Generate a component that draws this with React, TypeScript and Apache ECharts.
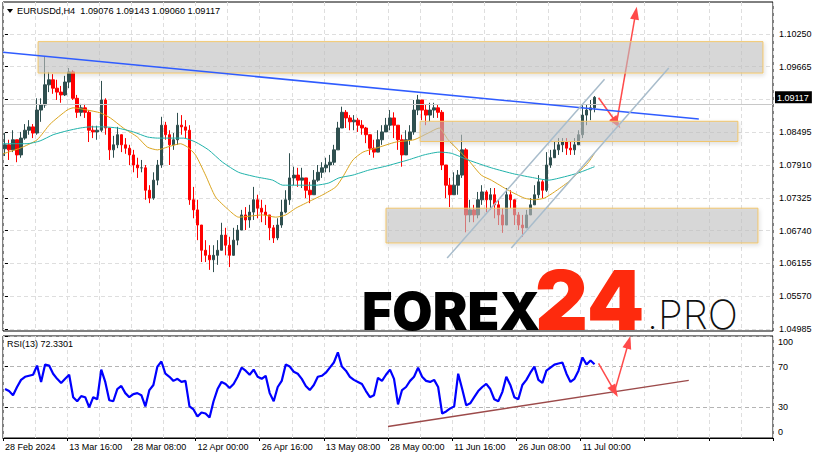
import React, { useEffect, useRef } from 'react';
import * as echarts from 'echarts';

// ---------- axis labels ----------
const dateLabels = ['28 Feb 2024', '13 Mar 16:00', '28 Mar 08:00', '12 Apr 00:00', '26 Apr 16:00', '13 May 08:00', '28 May 00:00', '11 Jun 16:00', '26 Jun 08:00', '11 Jul 00:00'];
const priceTicks = [1.04985, 1.0557, 1.06155, 1.0674, 1.07325, 1.0791, 1.08495, 1.0908, 1.09665, 1.1025];
const priceLabels = [1.04985, 1.0557, 1.06155, 1.0674, 1.07325, 1.0791, 1.08495, 1.09665, 1.1025];
const rsiTicks = [0, 30, 70, 100];
const slotCount = 192;

// ---------- price data (H4 EURUSD, grouped bars) ----------
const firstOpen = 1.082;
const closes = [
  1.0827, 1.0818, 1.0836, 1.0809, 1.0839, 1.0853, 1.0859, 1.0848, 1.0889, 1.0898,
  1.0934, 1.0943, 1.0928, 1.0921, 1.0916, 1.0939, 1.0957, 1.0910, 1.0885, 1.0893,
  1.0885, 1.0853, 1.0850, 1.0853, 1.0907, 1.0857, 1.0818, 1.0827, 1.0845, 1.0827,
  1.0821, 1.0809, 1.0791, 1.0786, 1.0786, 1.0746, 1.0732, 1.0764, 1.0791, 1.0862,
  1.0845, 1.0827, 1.0836, 1.0862, 1.0859, 1.0853, 1.0729, 1.0711, 1.0684, 1.0639,
  1.0630, 1.0622, 1.0630, 1.0639, 1.0666, 1.0648, 1.0630, 1.0657, 1.0675, 1.0702,
  1.0693, 1.0707, 1.0729, 1.0714, 1.0707, 1.0702, 1.0679, 1.0661, 1.0684, 1.0707,
  1.0729, 1.0768, 1.0773, 1.0764, 1.0768, 1.0746, 1.0738, 1.0764, 1.0778, 1.0786,
  1.0791, 1.0796, 1.0818, 1.0857, 1.0885, 1.0875, 1.0868, 1.0871, 1.0862, 1.0857,
  1.0845, 1.0821, 1.0814, 1.0836, 1.0850, 1.0862, 1.0875, 1.0862, 1.0836, 1.0809,
  1.0836, 1.0850, 1.0889, 1.0907, 1.0889, 1.0880, 1.0889, 1.0893, 1.0885, 1.0791,
  1.0755, 1.0738, 1.0755, 1.0773, 1.0818, 1.0702, 1.0711, 1.0702, 1.0729, 1.0743,
  1.0729, 1.0738, 1.0720, 1.0702, 1.0684, 1.0738, 1.0729, 1.0702, 1.0684, 1.0679,
  1.0702, 1.0720, 1.0738, 1.0761, 1.0746, 1.0791, 1.0804, 1.0818, 1.0827, 1.0832,
  1.0821, 1.0818, 1.0827, 1.0845, 1.0880, 1.0889, 1.0893, 1.09117
];
const highs = [
  1.0848, 1.0836, 1.0853, 1.0836, 1.0850, 1.0864, 1.0871, 1.0864, 1.0910, 1.0910,
  1.0984, 1.0957, 1.0953, 1.0943, 1.0932, 1.0950, 1.0964, 1.0960, 1.0916, 1.0900,
  1.0900, 1.0889, 1.0861, 1.0861, 1.0941, 1.0910, 1.0857, 1.0843, 1.0859, 1.0841,
  1.0839, 1.0827, 1.0818, 1.0804, 1.0800, 1.0791, 1.0755, 1.0778, 1.0800, 1.0877,
  1.0868, 1.0853, 1.0848, 1.0884, 1.0880, 1.0871, 1.0862, 1.0752, 1.0729, 1.0675,
  1.0657, 1.0648, 1.0648, 1.0657, 1.0688, 1.0679, 1.0663, 1.0679, 1.0684, 1.0711,
  1.0716, 1.0720, 1.0752, 1.0738, 1.0729, 1.0720, 1.0702, 1.0684, 1.0696, 1.0729,
  1.0746, 1.0812, 1.0788, 1.0786, 1.0786, 1.0768, 1.0761, 1.0782, 1.0791, 1.0796,
  1.0804, 1.0809, 1.0827, 1.0868, 1.0895, 1.0889, 1.0880, 1.0880, 1.0875, 1.0871,
  1.0859, 1.0839, 1.0836, 1.0853, 1.0862, 1.0875, 1.0889, 1.0885, 1.0862, 1.0845,
  1.0853, 1.0862, 1.0907, 1.0916, 1.0902, 1.0898, 1.0902, 1.0902, 1.0898, 1.0889,
  1.0782, 1.0768, 1.0778, 1.0782, 1.0845, 1.0821, 1.0729, 1.0720, 1.0743, 1.0755,
  1.0746, 1.0750, 1.0750, 1.0729, 1.0714, 1.0750, 1.0746, 1.0720, 1.0707, 1.0702,
  1.0711, 1.0732, 1.0755, 1.0773, 1.0764, 1.0814, 1.0818, 1.0832, 1.0839, 1.0839,
  1.0839, 1.0832, 1.0839, 1.0853, 1.0898, 1.0898, 1.0907, 1.0914
];
const lows = [
  1.0807, 1.0800, 1.0814, 1.0796, 1.0804, 1.0836, 1.0845, 1.0839, 1.0845, 1.0868,
  1.0893, 1.0921, 1.0918, 1.0907, 1.0902, 1.0914, 1.0928, 1.0907, 1.0875, 1.0878,
  1.0875, 1.0832, 1.0839, 1.0836, 1.0850, 1.0845, 1.0800, 1.0804, 1.0821, 1.0814,
  1.0811, 1.0791, 1.0778, 1.0768, 1.0778, 1.0729, 1.0723, 1.0729, 1.0755, 1.0786,
  1.0836, 1.0791, 1.0818, 1.0827, 1.0845, 1.0839, 1.0720, 1.0696, 1.0657, 1.0618,
  1.0618, 1.0604, 1.0600, 1.0613, 1.0639, 1.0630, 1.0609, 1.0639, 1.0648, 1.0675,
  1.0675, 1.0679, 1.0693, 1.0696, 1.0689, 1.0684, 1.0657, 1.0652, 1.0657, 1.0679,
  1.0705, 1.0720, 1.0755, 1.0752, 1.0750, 1.0732, 1.0723, 1.0738, 1.0761, 1.0768,
  1.0778, 1.0778, 1.0791, 1.0818, 1.0862, 1.0857, 1.0853, 1.0853, 1.0850, 1.0845,
  1.0830, 1.0809, 1.0804, 1.0818, 1.0827, 1.0850, 1.0853, 1.0839, 1.0818, 1.0788,
  1.0818, 1.0827, 1.0845, 1.0880, 1.0871, 1.0862, 1.0868, 1.0875, 1.0875, 1.0782,
  1.0732, 1.0716, 1.0738, 1.0738, 1.0768, 1.0671, 1.0689, 1.0689, 1.0696, 1.0720,
  1.0707, 1.0711, 1.0696, 1.0684, 1.0670, 1.0684, 1.0714, 1.0684, 1.0675, 1.0663,
  1.0684, 1.0702, 1.0720, 1.0732, 1.0732, 1.0743, 1.0786, 1.0804, 1.0809, 1.0814,
  1.0809, 1.0809, 1.0809, 1.0827, 1.0839, 1.0862, 1.0871, 1.0885
];
const lastPrice = 1.09117;

// moving averages: [bar slot, price]
const maFast = [
  [-0.5, 1.0811], [3.75, 1.0821], [8, 1.0836], [11.25, 1.0864], [15.5, 1.0889], [17, 1.0893], [20.5, 1.0889],
  [23.75, 1.0884], [26.25, 1.0875], [29.5, 1.0857], [33, 1.0841], [35.5, 1.0823], [38, 1.0818], [40.5, 1.0823],
  [43.75, 1.0829], [45.5, 1.0823], [47.5, 1.0809], [50, 1.0773], [52.5, 1.0734], [55.75, 1.0711], [58.25, 1.0698],
  [64.25, 1.0702], [67.5, 1.0698], [70, 1.0702], [72.5, 1.0714], [75, 1.0723], [79.25, 1.0738], [82.5, 1.0752],
  [84.25, 1.077], [86.75, 1.08], [89.25, 1.0814], [92.5, 1.0821], [97.5, 1.0832], [102, 1.0836], [105.5, 1.0848],
  [108.25, 1.0857], [110.5, 1.0836], [113, 1.0818], [115.5, 1.08], [118.75, 1.0773], [121.25, 1.0764],
  [125.5, 1.0746], [129.5, 1.0732], [132, 1.0729], [134.5, 1.0732], [137, 1.0743], [140.5, 1.0761],
  [143, 1.0778], [145.5, 1.0796], [147, 1.0812]
];
const maSlow = [
  [-0.5, 1.0829], [5.5, 1.0829], [8.75, 1.0834], [12, 1.0845], [15.5, 1.0852], [18.75, 1.0857], [21.25, 1.0859],
  [24.5, 1.0859], [28, 1.0857], [32, 1.085], [35.5, 1.0841], [38, 1.0839], [44.5, 1.0839], [47.5, 1.0832],
  [50.75, 1.0818], [54.25, 1.0796], [58.25, 1.0778], [62.5, 1.077], [66.75, 1.0764], [69.25, 1.0755],
  [77.5, 1.0755], [80.75, 1.0759], [83.25, 1.0768], [86.75, 1.0773], [90.75, 1.0782], [95, 1.0789],
  [100.5, 1.08], [104.5, 1.0809], [108.25, 1.0814], [111.25, 1.0812], [115.5, 1.08], [121.25, 1.0786],
  [127, 1.0775], [132, 1.0768], [135.5, 1.0764], [139.5, 1.077], [143, 1.0777], [147, 1.0788]
];

// drawn analysis objects: [slotFrom, slotTo, priceLow, priceHigh]
const zones = [
  [8.25, 189, 1.0955, 1.1011],
  [103.5, 182.75, 1.0833, 1.0869],
  [95, 187.75, 1.0652, 1.0714]
];
const trendLine = [[-0.5, 1.0992], [173, 1.0873]];
const channelUpper = [[110.25, 1.0625], [149.5, 1.0944]];
const channelLower = [[126.25, 1.0643], [165.5, 1.0964]];
const forecastPath = [[148, 1.0911], [152.5, 1.0866], [157.25, 1.1062]];

// RSI(13)
const rsi = [
  48, 46, 42, 50, 57, 60, 61, 62, 71, 55,
  72, 71, 63, 58, 54, 58, 62, 40, 36, 41,
  40, 30, 40, 38, 67, 55, 37, 36, 48, 51,
  44, 40, 43, 44, 42, 31, 47, 52, 70, 75,
  63, 60, 56, 58, 55, 56, 31, 28, 21, 25,
  24, 20, 36, 48, 55, 53, 49, 53, 60, 69,
  66, 62, 67, 60, 58, 61, 44, 36, 50, 56,
  72, 70, 65, 63, 58, 51, 47, 52, 60, 61,
  64, 69, 74, 84, 70, 66, 60, 57, 55, 53,
  46, 40, 42, 59, 56, 62, 67, 58, 33, 47,
  50, 56, 60, 69, 60, 56, 55, 57, 50, 24,
  26, 29, 31, 63, 48, 32, 34, 40, 46, 50,
  53, 48, 38, 36, 45, 60, 52, 40, 38, 52,
  57, 64, 70, 57, 54, 66, 69, 72, 73, 74,
  63, 55, 58, 66, 79, 72, 76, 72.33
];
const rsiSupport = [[95.5, 11.3], [170.5, 56.5]];
const rsiForecast = [[148, 73.2], [152, 45.7], [155.5, 93.9]];

const FONT = '"Liberation Sans", Arial, sans-serif';

export default function App() {
  const ref = useRef<HTMLDivElement>(null);

  useEffect(() => {
    document.body.style.margin = '0';
    if (!ref.current) return;
    const chart = echarts.init(ref.current, undefined, { renderer: 'svg' });

    const cats = Array.from({ length: slotCount }, (_, i) => String(i));
    const candles = closes.map((c, i) => [i === 0 ? firstOpen : closes[i - 1], c, lows[i], highs[i]]);

    const gridLine = { color: '#dedede', type: [4, 3] as any, width: 1 };

    const arrowSeg = (a: number[], b: number[], color: string) => [
      { coord: a, symbol: 'none', lineStyle: { color, width: 1.5, type: 'solid' } },
      { coord: b, symbol: 'triangle', symbolSize: [9, 13] }
    ];

    const option: any = {
      animation: false,
      backgroundColor: '#fff',
      textStyle: { fontFamily: FONT },
      grid: [
        { left: 3, right: 46, top: 2, height: 329, show: true, borderColor: '#000', borderWidth: 1 },
        { left: 3, right: 46, top: 336, height: 102, show: true, borderColor: '#000', borderWidth: 1 }
      ],
      xAxis: [
        {
          type: 'category', gridIndex: 0, data: cats, boundaryGap: true,
          axisLine: { show: false }, axisTick: { show: false }, axisLabel: { show: false },
          splitLine: { show: true, interval: 7, lineStyle: gridLine }
        },
        {
          type: 'category', gridIndex: 1, data: cats, boundaryGap: true,
          axisLine: { show: true, lineStyle: { color: '#000' } },
          axisTick: { show: true, interval: 15, length: 3, lineStyle: { color: '#000' } },
          axisLabel: {
            interval: 15, align: 'left', margin: 4, fontSize: 9, color: '#000', fontFamily: FONT,
            formatter: (_v: string, i: number) => (i % 16 === 0 && dateLabels[i / 16]) ? dateLabels[i / 16] : ''
          },
          splitLine: { show: true, interval: 7, lineStyle: gridLine }
        },
        { type: 'value', gridIndex: 0, min: -0.5, max: slotCount - 0.5, show: false },
        { type: 'value', gridIndex: 1, min: -0.5, max: slotCount - 0.5, show: false }
      ],
      yAxis: [
        {
          type: 'value', gridIndex: 0, position: 'right', min: 1.0495, max: 1.10817,
          axisLine: { show: false },
          axisTick: { show: true, length: 3, customValues: priceTicks, lineStyle: { color: '#000' } },
          axisLabel: {
            customValues: [...priceLabels, lastPrice], margin: 2, color: '#000', fontSize: 9, fontFamily: FONT,
            formatter: (v: number) => (Math.abs(v - lastPrice) < 1e-7 ? '{cur|' : '{n|') + v.toFixed(5) + '}',
            rich: {
              n: { padding: [0, 0, 0, 4], fontSize: 9, fontFamily: FONT, color: '#000' },
              cur: { padding: [2, 3, 1, 2], fontSize: 9, fontFamily: FONT, color: '#fff', backgroundColor: '#000' }
            }
          },
          splitLine: { show: true, lineStyle: gridLine }
        },
        {
          type: 'value', gridIndex: 1, position: 'right', min: 0, max: 100,
          axisLine: { show: false },
          axisTick: { show: true, length: 3, customValues: rsiTicks, lineStyle: { color: '#000' } },
          axisLabel: {
            customValues: rsiTicks, fontSize: 9, margin: 5, color: '#000', fontFamily: FONT,
            formatter: (v: number) => v === 100 ? '{t|100}' : v === 0 ? '{b|0}' : String(v),
            rich: { t: { padding: [12, 0, 0, 0], fontSize: 9, fontFamily: FONT }, b: { padding: [0, 0, 12, 0], fontSize: 9, fontFamily: FONT } }
          },
          splitLine: { show: true, lineStyle: { color: '#b4b4b4', type: [4, 3], width: 1 } }
        }
      ],
      series: [
        {
          type: 'candlestick', xAxisIndex: 0, yAxisIndex: 0, data: candles, barWidth: 3, z: 2,
          itemStyle: { color: '#2f4f4f', color0: '#ff0000', borderColor: '#2f4f4f', borderColor0: '#ff0000', borderWidth: 1 }
        },
        { type: 'line', xAxisIndex: 2, yAxisIndex: 0, data: maFast, showSymbol: false, smooth: 0.2, z: 3, lineStyle: { color: '#daa520', width: 1 } },
        { type: 'line', xAxisIndex: 2, yAxisIndex: 0, data: maSlow, showSymbol: false, smooth: 0.2, z: 3, lineStyle: { color: '#20b2aa', width: 1 } },
        {
          type: 'custom', xAxisIndex: 2, yAxisIndex: 0, z: 5, silent: true, data: zones,
          renderItem: (_p: any, api: any) => {
            const a = api.coord([api.value(0), api.value(3)]);
            const b = api.coord([api.value(1), api.value(2)]);
            return {
              type: 'rect',
              shape: { x: a[0], y: a[1], width: b[0] - a[0], height: b[1] - a[1] },
              style: { fill: 'rgba(196,196,196,0.58)', stroke: '#f2c66a', lineWidth: 1, shadowBlur: 4, shadowOffsetX: 1, shadowOffsetY: 2, shadowColor: 'rgba(0,0,0,0.18)' }
            };
          }
        },
        {
          type: 'line', xAxisIndex: 2, yAxisIndex: 0, data: trendLine, showSymbol: false, z: 6, lineStyle: { color: '#2f5cff', width: 1.5 },
          markLine: {
            silent: true, symbol: 'none', animation: false, label: { show: false },
            lineStyle: { color: '#c8c8c8', type: 'solid', width: 1 },
            data: [{ yAxis: lastPrice }]
          }
        },
        { type: 'line', xAxisIndex: 2, yAxisIndex: 0, data: channelUpper, showSymbol: false, z: 6, lineStyle: { color: '#a8bccb', width: 1.5 } },
        {
          type: 'line', xAxisIndex: 2, yAxisIndex: 0, data: channelLower, showSymbol: false, z: 6, lineStyle: { color: '#a8bccb', width: 1.5 },
          markLine: {
            silent: true, animation: false, label: { show: false },
            itemStyle: { color: '#ff4a4a' },
            data: [arrowSeg(forecastPath[0], forecastPath[1], '#ff4a4a'), arrowSeg(forecastPath[1], forecastPath[2], '#ff4a4a')]
          }
        },
        { type: 'line', xAxisIndex: 1, yAxisIndex: 1, data: rsi, showSymbol: false, z: 3, lineStyle: { color: '#0000ff', width: 2.2 } },
        {
          type: 'line', xAxisIndex: 3, yAxisIndex: 1, data: rsiSupport, showSymbol: false, z: 4, lineStyle: { color: '#9c4a4a', width: 1.5 },
          markLine: {
            silent: true, animation: false, label: { show: false },
            itemStyle: { color: '#ff4a4a' },
            data: [arrowSeg(rsiForecast[0], rsiForecast[1], '#ff4a4a'), arrowSeg(rsiForecast[1], rsiForecast[2], '#ff4a4a')]
          }
        }
      ],
      graphic: [
        { type: 'polygon', shape: { points: [[7, 9], [13, 9], [10, 13]] }, style: { fill: '#000' }, z: 10 },
        { type: 'text', x: 17, y: 11, z: 10, style: { text: 'EURUSDd,H4  1.09076 1.09143 1.09060 1.09117', fill: '#000', font: '9.2px ' + FONT, verticalAlign: 'middle' } },
        { type: 'text', x: 7, y: 344, z: 10, style: { text: 'RSI(13) 72.3301', fill: '#000', font: '9px ' + FONT, verticalAlign: 'middle' } },
        { type: 'text', x: 362, y: 311, z: 10, style: { text: 'FOREX', fill: '#000', font: '900 52px Inter, "Open Sans", sans-serif', verticalAlign: 'middle' } },
        { type: 'text', x: 535, y: 300, z: 10, style: { text: '24', fill: '#fe2a0d', font: '900 82px Inter, "Open Sans", sans-serif', verticalAlign: 'middle' } },
        { type: 'text', x: 647, y: 314, z: 10, style: { text: '.PRO', fill: '#111', font: '200 40px Inter, "Open Sans", sans-serif', verticalAlign: 'middle' } }
      ]
    };

    chart.setOption(option);
    return () => chart.dispose();
  }, []);

  return <div ref={ref} style={{ width: 819, height: 460 }} />;
}
